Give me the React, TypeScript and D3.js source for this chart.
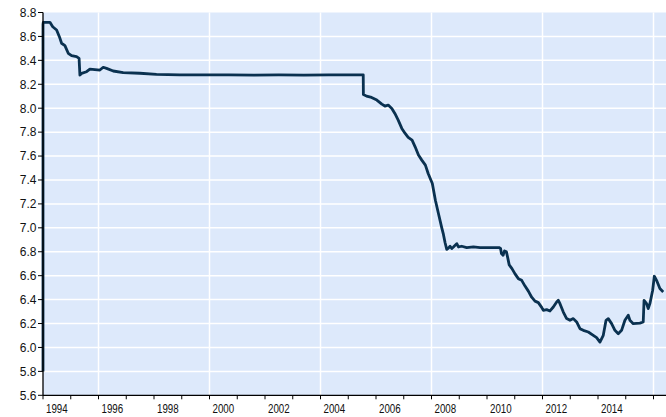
import React from "react";
import * as d3 from "d3";

const years: number[] = [
  1994.0, 1994.0, 1994.01, 1994.25, 1994.35, 1994.49, 1994.59, 1994.67, 1994.79, 1994.91,
  1995.03, 1995.21, 1995.3, 1995.33, 1995.39, 1995.57, 1995.69, 1996.05, 1996.17, 1996.29,
  1996.53, 1996.89, 1997.49, 1998.09, 1998.93, 1999.8, 2000.7, 2001.6, 2002.5, 2003.4,
  2004.3, 2005.2, 2005.54, 2005.545, 2005.66, 2005.84, 2006.03, 2006.21, 2006.32, 2006.44,
  2006.57, 2006.68, 2006.8, 2006.93, 2007.05, 2007.16, 2007.3, 2007.41, 2007.53, 2007.65,
  2007.78, 2007.88, 2008.03, 2008.14, 2008.25, 2008.37, 2008.43, 2008.49, 2008.55, 2008.61,
  2008.67, 2008.73, 2008.79, 2008.91, 2008.97, 2009.09, 2009.27, 2009.51, 2009.75, 2009.99,
  2010.23, 2010.43, 2010.49, 2010.52, 2010.58, 2010.63, 2010.7, 2010.74, 2010.8, 2010.9,
  2011.01, 2011.13, 2011.25, 2011.37, 2011.49, 2011.61, 2011.73, 2011.85, 2011.97, 2012.03,
  2012.15, 2012.27, 2012.39, 2012.51, 2012.57, 2012.63, 2012.75, 2012.87, 2012.99, 2013.11,
  2013.23, 2013.35, 2013.47, 2013.65, 2013.83, 2013.95, 2014.07, 2014.19, 2014.29, 2014.37,
  2014.49, 2014.61, 2014.73, 2014.85, 2014.97, 2015.09, 2015.15, 2015.27, 2015.51, 2015.63,
  2015.66, 2015.75, 2015.81, 2015.87, 2015.97, 2016.03, 2016.11, 2016.23, 2016.35,
];

const rates: number[] = [
  5.8, 8.7, 8.718, 8.718, 8.681, 8.654, 8.598, 8.543, 8.523, 8.459,
  8.439, 8.431, 8.417, 8.277, 8.291, 8.305, 8.327, 8.319, 8.342, 8.333,
  8.311, 8.297, 8.292, 8.283, 8.279, 8.278, 8.279, 8.277, 8.278, 8.277,
  8.278, 8.279, 8.279, 8.115, 8.101, 8.09, 8.068, 8.034, 8.018, 8.026,
  7.998, 7.956, 7.9, 7.831, 7.789, 7.756, 7.733, 7.677, 7.608, 7.566,
  7.524, 7.454, 7.371, 7.231, 7.12, 7.0, 6.945, 6.875, 6.82, 6.83,
  6.846, 6.827, 6.84, 6.868, 6.84, 6.846, 6.835, 6.84, 6.835, 6.835,
  6.835, 6.835, 6.827, 6.785, 6.771, 6.807, 6.799, 6.757, 6.69, 6.659,
  6.615, 6.575, 6.561, 6.513, 6.471, 6.42, 6.387, 6.375, 6.335, 6.31,
  6.316, 6.305, 6.338, 6.38, 6.394, 6.366, 6.296, 6.241, 6.227, 6.241,
  6.213, 6.157, 6.143, 6.129, 6.101, 6.082, 6.045, 6.101, 6.227, 6.241,
  6.199, 6.143, 6.115, 6.143, 6.227, 6.269, 6.227, 6.199, 6.204, 6.213,
  6.394, 6.366, 6.325, 6.366, 6.478, 6.595, 6.561, 6.492, 6.464,
];

const yTicks: number[] = [5.6, 5.8, 6.0, 6.2, 6.4, 6.6, 6.8, 7.0, 7.2, 7.4, 7.6, 7.8, 8.0, 8.2, 8.4, 8.6, 8.8];
const xTickYears: number[] = d3.range(1994, 2017);
const xLabelYears: number[] = [1994, 1996, 1998, 2000, 2002, 2004, 2006, 2008, 2010, 2012, 2014];
const xGridYears: number[] = [1996, 2000, 2004, 2008, 2012, 2016];

export default function App() {
  const W = 666;
  const H = 417;
  const left = 43;
  const top = 12.5;
  const bottom = 395.3;
  const yearW = 27.75;
  const x = d3.scaleLinear().domain([1994, 2017]).range([left, left + 23 * yearW]);
  const y = d3.scaleLinear().domain([5.6, 8.8]).range([bottom, top]);
  const pts: [number, number][] = years.map((yr, i) => [yr, rates[i]]);
  const line = d3
    .line<[number, number]>()
    .x((d) => x(d[0]))
    .y((d) => y(d[1]));
  const font = "'Liberation Sans', Arial, sans-serif";

  return (
    <svg
      width={W}
      height={H}
      style={{ position: "fixed", left: 0, top: 0, background: "#fff" }}
    >
      <rect x={left} y={top} width={W - left} height={bottom - top} fill="#dde9fb" />
      {yTicks.slice(1, -1).map((t) => (
        <line key={"hg" + t} x1={left} x2={W} y1={y(t)} y2={y(t)} stroke="#fff" strokeWidth={1.5} />
      ))}
      {xGridYears.map((t) => (
        <line key={"vg" + t} x1={x(t)} x2={x(t)} y1={top} y2={bottom} stroke="#fff" strokeWidth={1.5} />
      ))}
      <path d={line(pts) || ""} fill="none" stroke="#0a3150" strokeWidth={2.8} strokeLinejoin="round" />
      <line x1={left} x2={left} y1={top} y2={bottom} stroke="#000" strokeWidth={1.3} />
      <line x1={left} x2={W} y1={bottom} y2={bottom} stroke="#000" strokeWidth={1.3} />
      {yTicks.map((t) => (
        <g key={"yt" + t}>
          <line x1={left - 5} x2={left} y1={y(t)} y2={y(t)} stroke="#000" strokeWidth={1} />
          <text
            x={left - 6.5}
            y={y(t)}
            dy="0.36em"
            textAnchor="end"
            fontFamily={font}
            fontSize={12}
            fill="#111"
          >
            {t.toFixed(1)}
          </text>
        </g>
      ))}
      {xTickYears.map((t) => (
        <line key={"xt" + t} x1={x(t)} x2={x(t)} y1={bottom} y2={bottom + 4} stroke="#000" strokeWidth={1} />
      ))}
      {xLabelYears.map((t) => (
        <text
          key={"xl" + t}
          x={x(t + 0.5)}
          y={412.5}
          textAnchor="middle"
          fontFamily={font}
          fontSize={12.5}
          textLength={21.7}
          lengthAdjust="spacingAndGlyphs"
          fill="#111"
        >
          {t}
        </text>
      ))}
    </svg>
  );
}
